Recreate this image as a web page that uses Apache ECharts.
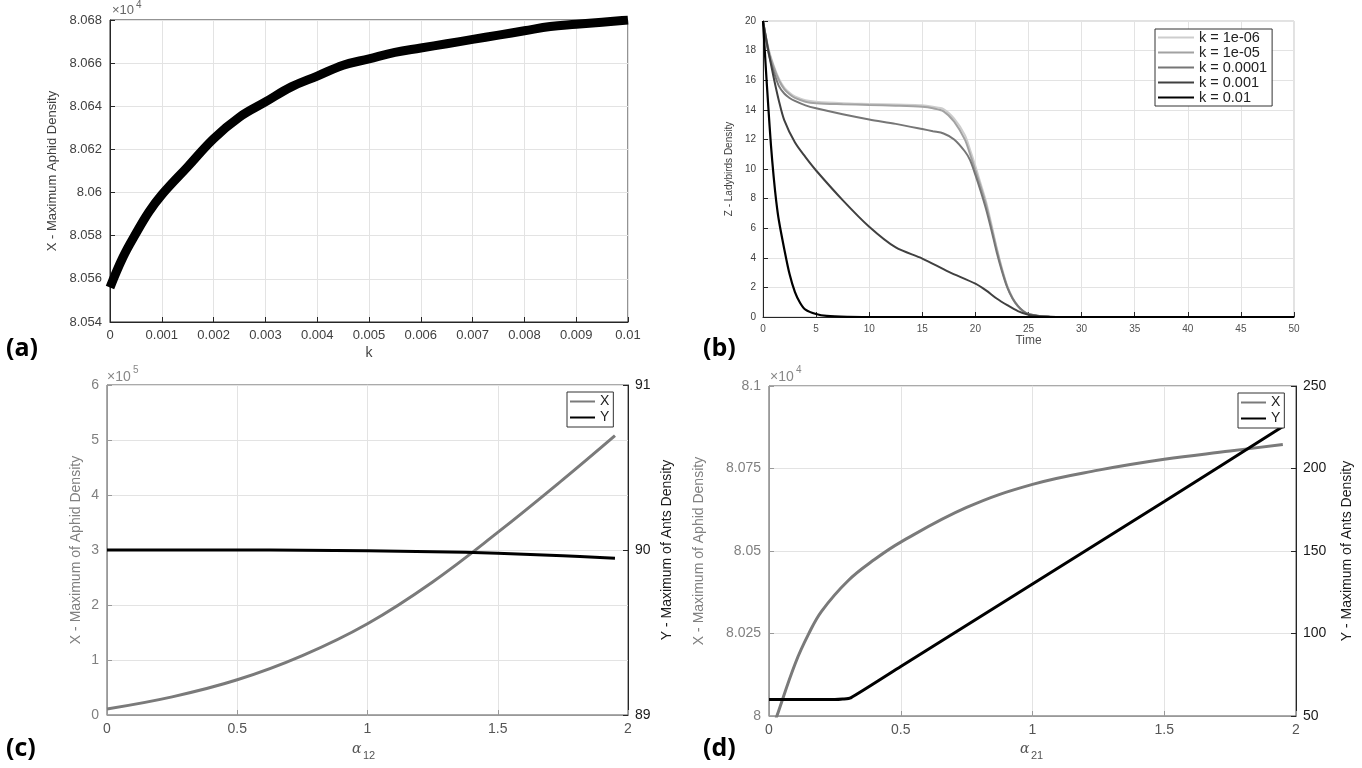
<!DOCTYPE html>
<html>
<head>
<meta charset="utf-8">
<script src="https://cdn.jsdelivr.net/npm/echarts@6/dist/echarts.min.js"></script>
<style>
  html, body { margin: 0; padding: 0; background: #fff; }
  #chart { width: 1362px; height: 768px; }
</style>
</head>
<body>
<div id="chart"></div>
<script>
// (a) maximum aphid density vs k
const kA = [0, 0.00025, 0.0005, 0.00075, 0.001, 0.0015, 0.002, 0.0025, 0.003, 0.0035, 0.004, 0.0045,
  0.005, 0.0055, 0.006, 0.0065, 0.007, 0.0075, 0.008, 0.0085, 0.009, 0.0095, 0.01];
const xMaxA = [80556, 80570, 80581, 80591, 80599, 80612, 80625, 80635, 80642, 80649, 80654, 80659,
  80662, 80665, 80667, 80669, 80671, 80673, 80675, 80677, 80678, 80679, 80680];

// (b) ladybirds density over time
const kLabels = ['k = 1e-06', 'k = 1e-05', 'k = 0.0001', 'k = 0.001', 'k = 0.01'];
const timeUpper = [0, 0.5, 1, 1.5, 2, 2.5, 3, 4, 5, 7.5, 10, 12.5, 15, 16, 17, 18, 19, 19.5, 20, 20.5,
  21, 21.5, 22, 22.5, 23, 23.5, 24, 24.5, 25, 26, 27, 28, 30, 40, 50];
const zK1e6 = [20, 18.2, 17.0, 16.1, 15.5, 15.15, 14.9, 14.65, 14.55, 14.45, 14.4, 14.35, 14.3, 14.2,
  14.05, 13.4, 12.3, 11.3, 10.2, 9.0, 7.8, 6.3, 4.7, 3.3, 2.1, 1.3, 0.75, 0.4, 0.2, 0.06, 0.02, 0, 0, 0, 0];
const zK1e5 = [20, 18.1, 16.9, 16.0, 15.4, 15.05, 14.8, 14.55, 14.45, 14.38, 14.33, 14.28, 14.2, 14.1,
  13.9, 13.2, 12.0, 11.0, 9.9, 8.8, 7.6, 6.1, 4.6, 3.2, 2.05, 1.25, 0.72, 0.38, 0.19, 0.06, 0.02, 0, 0, 0, 0];
const zK1e4 = [20, 17.9, 16.6, 15.6, 15.1, 14.8, 14.6, 14.3, 14.1, 13.7, 13.35, 13.05, 12.7, 12.55,
  12.4, 12.0, 11.2, 10.6, 9.6, 8.5, 7.3, 5.9, 4.4, 3.1, 2.0, 1.25, 0.75, 0.4, 0.2, 0.06, 0.02, 0, 0, 0, 0];
const timeK3 = [0, 0.5, 1, 1.5, 2, 3, 4, 5, 7.5, 10, 12.5, 15, 17.5, 20, 21, 22, 23, 24, 25, 26, 27, 30, 40, 50];
const zK1e3 = [20, 18.0, 16.2, 14.6, 13.3, 11.8, 10.8, 9.9, 7.9, 6.1, 4.7, 3.95, 3.05, 2.25, 1.8, 1.25,
  0.8, 0.4, 0.15, 0.05, 0.02, 0, 0, 0];
const timeK2 = [0, 0.25, 0.5, 0.75, 1, 1.25, 1.5, 2, 2.5, 3, 3.5, 4, 5, 6, 8, 10, 20, 30, 40, 50];
const zK1e2 = [20, 17, 14.2, 11.6, 9.5, 7.8, 6.5, 4.6, 2.9, 1.7, 0.95, 0.5, 0.2, 0.07, 0.01, 0, 0, 0, 0, 0];

// (c) alpha12
const alpha12 = [0, 0.25, 0.5, 0.75, 1.0, 1.25, 1.5, 1.75, 1.95];
const xMaxC = [11000, 33000, 64000, 108000, 166000, 242000, 332000, 428000, 508000];
const yMaxC = [90.0, 90.0, 90.0, 89.998, 89.995, 89.99, 89.98, 89.965, 89.95];

// (d) alpha21
const alpha21X = [0.02, 0.03, 0.1, 0.15, 0.2, 0.3, 0.4, 0.5, 0.75, 1.0, 1.25, 1.5, 1.75, 1.95];
const xMaxD = [79975, 80000, 80160, 80248, 80318, 80410, 80474, 80527, 80632, 80702, 80745, 80778, 80803, 80823];
const alpha21Y = [0, 0.25, 0.28, 0.31, 0.5, 1.0, 1.5, 1.95];
const yMaxD = [60, 60, 60.3, 61, 80, 130, 180, 225.5];

const pairs = (xs, ys) => xs.map((x, i) => [x, ys[i]]);

const FONT = 'Liberation Sans';
const GRID_LINE = '#e3e3e3';
const GREY = '#7a7a7a';

function axisStyle(color, fontSize, labelColor, nameSize) {
  return {
    axisLine: { show: true, lineStyle: { color: color, width: 1 } },
    axisTick: { show: true, inside: true, length: 5, lineStyle: { color: color } },
    axisLabel: { color: labelColor || color, fontSize: fontSize, fontFamily: FONT, margin: 7 },
    splitLine: { show: true, lineStyle: { color: GRID_LINE, width: 1 } },
    nameTextStyle: { color: labelColor || color, fontFamily: FONT, fontSize: nameSize || fontSize }
  };
}

function text(left, top, str, font, fill) {
  return { type: 'text', left: left, top: top, style: { text: str, font: font, fill: fill || '#000' } };
}

function lineSeries(name, xi, yi, xs, ys, color, width, smooth) {
  return {
    name: name, type: 'line', xAxisIndex: xi, yAxisIndex: yi, data: pairs(xs, ys),
    smooth: smooth, symbol: 'none', itemStyle: { color: color },
    lineStyle: { color: color, width: width }
  };
}

const legendBase = {
  orient: 'vertical', selectedMode: false, icon: 'rect', itemHeight: 2, itemGap: 1,
  borderColor: '#333', borderWidth: 1, backgroundColor: '#fff'
};

const chart = echarts.init(document.getElementById('chart'));

const option = {
  backgroundColor: '#fff',
  animation: false,
  grid: [
    { left: 110, top: 20, width: 518, height: 302, show: true, borderColor: '#262626', borderWidth: 1 },
    { left: 763, top: 21, width: 531, height: 296, show: true, borderColor: '#c4c4c4', borderWidth: 1 },
    { left: 107, top: 385, width: 521, height: 330, show: true, borderColor: '#555', borderWidth: 1 },
    { left: 769, top: 386, width: 527, height: 330, show: true, borderColor: '#555', borderWidth: 1 }
  ],
  xAxis: [
    Object.assign(axisStyle('#262626', 13, '#404040', 14), {
      gridIndex: 0, type: 'value', min: 0, max: 0.01, interval: 0.001,
      name: 'k', nameLocation: 'middle', nameGap: 24
    }),
    Object.assign(axisStyle('#262626', 10, '#505050', 12), {
      gridIndex: 1, type: 'value', min: 0, max: 50, interval: 5,
      name: 'Time', nameLocation: 'middle', nameGap: 17
    }),
    Object.assign(axisStyle('#999', 14, '#555'), {
      gridIndex: 2, type: 'value', min: 0, max: 2, interval: 0.5
    }),
    Object.assign(axisStyle('#999', 14, '#555'), {
      gridIndex: 3, type: 'value', min: 0, max: 2, interval: 0.5
    })
  ],
  yAxis: [
    Object.assign(axisStyle('#262626', 13, '#404040', 13), {
      gridIndex: 0, type: 'value', min: 80540, max: 80680, interval: 20,
      name: 'X - Maximum Aphid Density', nameLocation: 'middle', nameGap: 51,
      axisLabel: { color: '#404040', fontSize: 13, fontFamily: FONT, margin: 8,
        formatter: v => String(+(v / 1e4).toFixed(4)) }
    }),
    Object.assign(axisStyle('#262626', 10, '#404040', 10), {
      gridIndex: 1, type: 'value', min: 0, max: 20, interval: 2,
      name: 'Z - Ladybirds Density', nameLocation: 'middle', nameGap: 29
    }),
    Object.assign(axisStyle('#999', 14, '#808080', 14), {
      gridIndex: 2, type: 'value', min: 0, max: 600000, interval: 100000,
      name: 'X - Maximum of Aphid Density', nameLocation: 'middle', nameGap: 24,
      axisLabel: { color: '#808080', fontSize: 14, fontFamily: FONT, margin: 8,
        formatter: v => String(v / 1e5) }
    }),
    Object.assign(axisStyle('#262626', 14, '#1a1a1a', 14), {
      gridIndex: 2, type: 'value', position: 'right', min: 89, max: 91, interval: 1,
      splitLine: { show: false },
      name: 'Y - Maximum of Ants Density', nameLocation: 'middle', nameGap: 32, nameRotate: 90
    }),
    Object.assign(axisStyle('#999', 14, '#808080', 14), {
      gridIndex: 3, type: 'value', min: 80000, max: 81000, interval: 250,
      name: 'X - Maximum of Aphid Density', nameLocation: 'middle', nameGap: 63,
      axisLabel: { color: '#808080', fontSize: 14, fontFamily: FONT, margin: 8,
        formatter: v => String(+(v / 1e4).toFixed(4)) }
    }),
    Object.assign(axisStyle('#262626', 14, '#1a1a1a', 14), {
      gridIndex: 3, type: 'value', position: 'right', min: 50, max: 250, interval: 50,
      splitLine: { show: false },
      name: 'Y - Maximum of Ants Density', nameLocation: 'middle', nameGap: 44, nameRotate: 90
    })
  ],
  legend: [
    Object.assign({}, legendBase, {
      data: kLabels, left: 1155, top: 29, itemWidth: 36, itemGap: 0, padding: [1, 5, 1, 3],
      textStyle: { fontFamily: FONT, fontSize: 14.5, color: '#222', lineHeight: 14 }
    }),
    Object.assign({}, legendBase, {
      data: ['X', 'Y'], left: 567, top: 392, itemWidth: 25, padding: [2, 4, 2, 3],
      textStyle: { fontFamily: FONT, fontSize: 14, color: '#222', lineHeight: 15 }
    }),
    Object.assign({}, legendBase, {
      data: ['X', 'Y'], left: 1238, top: 393, itemWidth: 25, padding: [2, 4, 2, 3],
      textStyle: { fontFamily: FONT, fontSize: 14, color: '#222', lineHeight: 15 }
    })
  ],
  series: [
    lineSeries(null, 0, 0, kA, xMaxA, '#000', 9, 0.4),

    lineSeries(kLabels[0], 1, 1, timeUpper, zK1e6, '#cdcdcd', 2, 0.3),
    lineSeries(kLabels[1], 1, 1, timeUpper, zK1e5, '#a2a2a2', 2, 0.3),
    lineSeries(kLabels[2], 1, 1, timeUpper, zK1e4, '#767676', 2, 0.3),
    lineSeries(kLabels[3], 1, 1, timeK3, zK1e3, '#404040', 2, 0.3),
    lineSeries(kLabels[4], 1, 1, timeK2, zK1e2, '#000', 2.2, 0.3),

    lineSeries('X', 2, 2, alpha12, xMaxC, GREY, 3, 0.4),
    lineSeries('Y', 2, 3, alpha12, yMaxC, '#000', 3, 0.4),

    lineSeries('X', 3, 4, alpha21X, xMaxD, GREY, 3, 0.4),
    lineSeries('Y', 3, 5, alpha21Y, yMaxD, '#000', 3, 0.2)
  ],
  graphic: [
    text(6, 336, '(a)', 'bold 25px "Open Sans"'),
    text(703, 336, '(b)', 'bold 25px "Open Sans"'),
    text(6, 736, '(c)', 'bold 25px "Open Sans"'),
    text(703, 736, '(d)', 'bold 25px "Open Sans"'),
    // exponent labels
    text(112, 4, '×10', '13px "Liberation Sans"', '#666'),
    text(136, 0, '4', '10px "Liberation Sans"', '#666'),
    text(107, 370, '×10', '14px "Liberation Sans"', '#888'),
    text(133, 365, '5', '10px "Liberation Sans"', '#888'),
    text(770, 370, '×10', '14px "Liberation Sans"', '#888'),
    text(796, 365, '4', '10px "Liberation Sans"', '#888'),
    // alpha axis names
    text(352, 742, 'α', 'italic 14px "DejaVu Serif"', '#555'),
    text(363, 750, '12', '11px "Liberation Sans"', '#555'),
    text(1020, 742, 'α', 'italic 14px "DejaVu Serif"', '#555'),
    text(1031, 750, '21', '11px "Liberation Sans"', '#555')
  ]
};

chart.setOption(option);
</script>
</body>
</html>
